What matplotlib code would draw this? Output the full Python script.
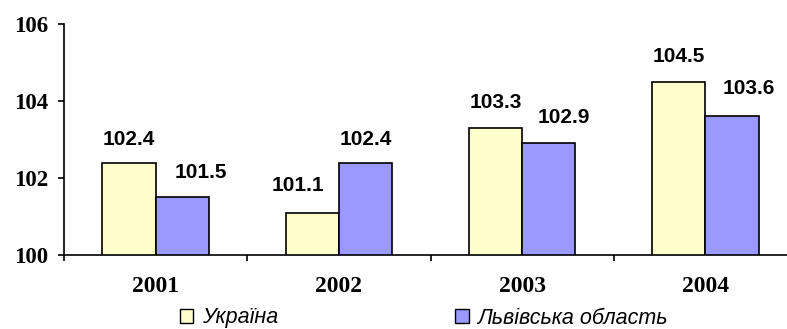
import numpy as np
import matplotlib.pyplot as plt
from matplotlib.patches import Patch

# Data
years = ['2001', '2002', '2003', '2004']
ukraine = [102.4, 101.1, 103.3, 104.5]
lviv = [101.5, 102.4, 102.9, 103.6]
series_names = ['Україна', 'Львівська область']
colors = ['#FFFFCC', '#9999FF']

# label nudges in pixels (the labels were moved by hand in the original)
ukr_dx, ukr_dy = [0, -14, 0, 0], [18, 22, 20, 20]
lviv_dx, lviv_dy = [19, 0, 15, 17], [19, 18, 20, 22]

fig = plt.figure(figsize=(7.87, 3.29), dpi=100)
ax = fig.add_axes([64 / 787, 1 - 255 / 329, 733 / 787, 231 / 329])

x = np.arange(len(years))
w = 0.29
bars1 = ax.bar(x - w / 2, ukraine, w, color=colors[0], edgecolor='black', linewidth=1.2)
bars2 = ax.bar(x + w / 2, lviv, w, color=colors[1], edgecolor='black', linewidth=1.2)

# value labels above bars
px = 0.72  # points per pixel at 100 dpi
for bars, vals, dxs, dys in [(bars1, ukraine, ukr_dx, ukr_dy), (bars2, lviv, lviv_dx, lviv_dy)]:
    for b, v, dx, dy in zip(bars, vals, dxs, dys):
        ax.annotate(f'{v:.1f}', (b.get_x() + b.get_width() / 2, v),
                    xytext=(dx * px, dy * px), textcoords='offset points',
                    ha='center', va='baseline', fontsize=15, fontweight='bold',
                    family='Liberation Sans', clip_on=False)

ax.set_ylim(100, 106)
ax.set_yticks([100, 102, 104, 106])
ax.set_xlim(-0.5, 3.5)
ax.set_xticks(x)
ax.set_xticklabels(years)
ax.set_xticks(np.arange(-0.5, 4, 1), minor=True)

for lab in ax.get_xticklabels() + ax.get_yticklabels():
    lab.set_family('Liberation Serif')
    lab.set_fontweight('bold')
for lab in ax.get_xticklabels():
    lab.set_fontsize(17)
for lab in ax.get_yticklabels():
    lab.set_fontsize(16.5)

ax.tick_params(axis='x', which='major', length=0, pad=15)
ax.tick_params(axis='x', which='minor', length=4, width=1.2, direction='out')
ax.tick_params(axis='y', length=4.5, width=1.2, direction='out', pad=7)

ax.spines['top'].set_visible(False)
ax.spines['right'].set_visible(False)
ax.spines['left'].set_linewidth(1.2)
ax.spines['bottom'].set_linewidth(1.2)

handles = [Patch(facecolor=c, edgecolor='black', linewidth=1) for c in colors]
fig.legend(handles, series_names, ncol=2, loc='center left',
           bbox_to_anchor=(180 / 787, 1 - 318 / 329), frameon=False,
           borderpad=0, borderaxespad=0, handlelength=0.62, handleheight=0.62,
           handletextpad=0.42, columnspacing=8.2,
           prop={'family': 'Liberation Sans', 'style': 'italic', 'size': 15.5})

fig.savefig('out.png', dpi=100)
